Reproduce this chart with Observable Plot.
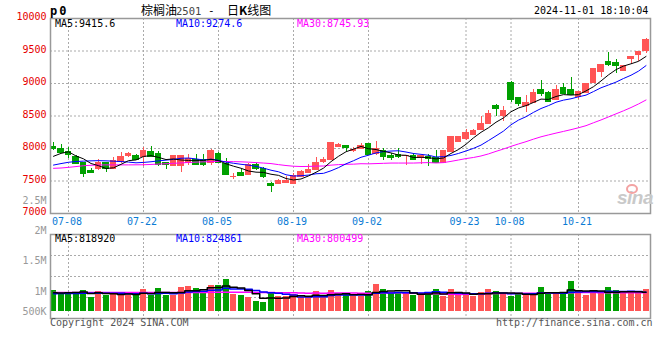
<!DOCTYPE html>
<html><head><meta charset="utf-8">
<script src="https://cdn.jsdelivr.net/npm/d3@7"></script>
<script src="https://cdn.jsdelivr.net/npm/@observablehq/plot@0.6"></script>
<style>
html,body{margin:0;padding:0;background:#fff;}
#wrap{position:relative;width:660px;height:360px;overflow:hidden;background:#fff;font-family:"DejaVu Sans Mono",monospace;}
#wrap svg{position:absolute;left:0;top:0;}
.t{position:absolute;white-space:pre;font-size:10px;line-height:12px;font-family:"DejaVu Sans Mono",monospace;}
.cjk{position:absolute;white-space:pre;font-size:12px;line-height:14px;font-family:"Noto Sans CJK SC",sans-serif;color:#000;}
</style></head><body>
<div id="wrap"></div>
<script>
// ---- data ----
const dates = ["07-04","07-05","07-08","07-09","07-10","07-11","07-12","07-15","07-16","07-17","07-18","07-19","07-22","07-23","07-24","07-25","07-26","07-29","07-30","07-31","08-01","08-02","08-05","08-06","08-07","08-08","08-09","08-12","08-13","08-14","08-15","08-16","08-19","08-20","08-21","08-22","08-23","08-26","08-27","08-28","08-29","08-30","09-02","09-03","09-04","09-05","09-06","09-09","09-10","09-11","09-12","09-13","09-18","09-19","09-20","09-23","09-24","09-25","09-26","09-27","09-30","10-08","10-09","10-10","10-11","10-14","10-15","10-16","10-17","10-18","10-21","10-22","10-23","10-24","10-25","10-28","10-29","10-30","10-31","11-01"];
const open = [8030,7990,7952,7875,7775,7657,7686,7775,7691,7794,7882,7878,7873,7946,7912,7775,7731,7731,7770,7829,7829,7775,7922,7765,7554,7628,7593,7740,7681,7458,7448,7466,7452,7568,7628,7672,7796,7830,8025,8045,7960,7995,8070,7912,7962,7890,7905,7880,7890,7848,7872,7847,7782,7945,8105,8153,8214,8280,8372,8648,8495,9005,8775,8648,8699,8893,8852,8740,8928,8893,8791,8860,9010,9183,9336,9311,9199,9377,9438,9505];
const high = [8095,8055,8012,7892,7780,7700,7838,7784,7863,7936,7936,7902,8010,8025,7961,7789,7897,7897,7902,7902,7902,7985,7931,7843,7608,7677,7765,7765,7701,7471,7520,7570,7618,7657,7755,7855,7863,8080,8083,8052,8010,8070,8080,8115,7995,7930,7998,7890,7920,7888,7905,7972,7965,8180,8192,8296,8300,8485,8587,8678,8653,9035,8790,8816,8903,9046,8877,8975,8995,9097,8867,9000,9230,9285,9479,9367,9280,9410,9482,9693];
const low = [7971,7930,7840,7755,7552,7612,7667,7633,7681,7765,7863,7814,7716,7863,7716,7677,7716,7628,7740,7731,7716,7731,7765,7579,7520,7584,7593,7667,7535,7330,7441,7461,7452,7568,7618,7667,7775,7830,8010,7951,7935,7990,7895,7885,7808,7812,7848,7735,7808,7758,7722,7768,7778,7940,8100,8127,8204,8280,8372,8485,8423,8714,8648,8561,8699,8806,8714,8740,8842,8816,8750,8852,9010,9097,9260,9148,9199,9300,9341,9469];
const close = [7988,7938,7905,7765,7608,7628,7775,7691,7814,7873,7912,7829,7961,7873,7740,7745,7878,7878,7838,7750,7740,7961,7780,7593,7564,7584,7750,7691,7569,7425,7502,7505,7580,7643,7662,7778,7828,8078,8055,8012,7975,8040,7900,7995,7868,7858,7872,7886,7825,7882,7833,7772,7958,8175,8180,8240,8268,8383,8525,8602,8576,8740,8678,8699,8852,8831,8714,8906,8842,8816,8867,9000,9228,9285,9285,9265,9275,9403,9479,9673];
const ma5 = [7880,7925,7950,7885,7841,7769,7736,7693,7703,7756,7813,7824,7878,7890,7863,7830,7839,7823,7816,7818,7817,7833,7814,7765,7728,7696,7654,7636,7632,7604,7587,7538,7516,7531,7578,7634,7698,7798,7880,7950,7990,8032,7996,7984,7956,7932,7899,7896,7862,7865,7860,7840,7854,7924,7984,8065,8164,8249,8319,8404,8471,8565,8624,8659,8709,8760,8755,8800,8829,8822,8829,8886,8951,9039,9133,9213,9268,9303,9341,9416];
const ma10 = [7745,7768,7788,7800,7806,7810,7813,7810,7805,7799,7791,7780,7786,7796,7810,7821,7832,7850,7853,7840,7823,7836,7818,7790,7773,7757,7744,7725,7698,7666,7642,7596,7576,7581,7591,7611,7618,7657,7706,7764,7812,7865,7897,7932,7953,7961,7965,7946,7923,7910,7896,7869,7875,7893,7924,7962,8002,8052,8122,8194,8268,8365,8437,8489,8556,8615,8660,8712,8744,8765,8795,8821,8876,8934,8977,9021,9077,9127,9190,9275];
const ma30 = [7695,7700,7710,7722,7735,7742,7746,7748,7748,7748,7748,7749,7750,7755,7760,7766,7772,7778,7785,7790,7795,7798,7800,7800,7798,7795,7790,7783,7776,7768,7752,7738,7727,7723,7724,7729,7731,7744,7752,7757,7759,7766,7764,7768,7772,7776,7776,7776,7776,7780,7783,7777,7783,7802,7823,7845,7862,7885,7917,7956,7992,8033,8070,8105,8144,8180,8209,8237,8263,8290,8319,8351,8396,8439,8486,8533,8580,8630,8685,8746];
const volume = [895000,725000,810000,810000,895000,610000,853000,682000,725000,768000,682000,768000,938000,682000,994000,682000,682000,1023000,1066000,994000,853000,1109000,1109000,1365000,725000,682000,610000,426000,397000,755000,652000,652000,725000,584000,652000,853000,610000,895000,682000,755000,652000,652000,853000,1151000,938000,755000,755000,823000,682000,682000,797000,938000,652000,938000,712000,712000,652000,797000,938000,853000,712000,652000,725000,755000,755000,1023000,725000,725000,810000,1279000,895000,682000,755000,755000,1023000,895000,755000,755000,755000,938000];
const volMa5 = [800000,790000,800000,810000,827000,770000,796000,770000,753000,727000,742000,725000,776000,768000,813000,813000,796000,813000,890000,890000,924000,1009000,1026000,1086000,1032000,998000,898000,762000,568000,574000,568000,577000,636000,674000,653000,693000,685000,719000,739000,759000,719000,727000,719000,813000,849000,870000,890000,884000,791000,739000,748000,785000,751000,802000,808000,791000,733000,762000,762000,791000,791000,791000,776000,739000,720000,782000,797000,797000,808000,913000,887000,878000,884000,873000,822000,822000,837000,837000,837000,818920];
const volMa10 = [760000,765000,770000,770000,775000,775000,780000,780000,778000,777000,756000,760000,773000,760000,770000,777000,760000,794000,829000,851000,868000,902000,919000,988000,961000,961000,953000,894000,827000,803000,783000,737000,699000,621000,614000,631000,631000,678000,706000,706000,706000,706000,719000,776000,804000,794000,809000,802000,802000,794000,809000,838000,817000,796000,774000,769000,759000,757000,782000,799000,791000,762000,769000,751000,755000,786000,794000,786000,774000,816000,835000,838000,841000,841000,867000,855000,858000,861000,855000,824861];
const volMa30 = [805000,805000,806000,806000,807000,807000,808000,808000,808000,809000,809000,810000,810000,810000,811000,811000,812000,812000,813000,814000,815000,816000,818000,820000,821000,820000,818000,815000,812000,811000,802000,800000,797000,790000,781000,790000,781000,789000,787000,787000,786000,782000,779000,795000,793000,795000,798000,791000,778000,768000,766000,760000,745000,731000,730000,731000,733000,745000,763000,767000,769000,769000,769000,774000,778000,783000,787000,781000,786000,803000,811000,812000,809000,796000,799000,803000,803000,801000,803000,800499];
const tickLabels = ["07-08","07-22","08-05","08-19","09-02","09-23","10-08","10-21"];
const priceTicks = [7000,7500,8000,8500,9000,9500,10000];
const priceGrid = [7500,8000,8500,9000,9500];
const volTickValues = [500000,1000000,1500000,2000000,2500000];
const volTickText = ["500K","1M","1.5M","2M","2.5M"];
const maLabels = {price: ["MA5:9415.6","MA10:9274.6","MA30:8745.93"], vol: ["MA5:818920","MA10:824861","MA30:800499"]};

// ---- build ----
const RED = "#ff5555", GREEN = "#00a000";
const N = close.length;
const rows = d3.range(N).map(i => ({
  i, date: dates[i], open: open[i], high: high[i], low: low[i], close: close[i],
  vol: volume[i], ma5: ma5[i], ma10: ma10[i], ma30: ma30[i],
  vma5: volMa5[i], vma10: volMa10[i], vma30: volMa30[i],
  col: close[i] >= open[i] ? RED : GREEN
}));
const tickIdx = tickLabels.map(l => dates.indexOf(l));
const xDomain = [-0.4, N - 0.4];
const half = 0.36;
const FONT = "'DejaVu Sans Mono', monospace";
const grid = {stroke: "#aaa", strokeDasharray: "2,2", strokeWidth: 1};
const baseStyle = {fontFamily: FONT, fontSize: "10px", background: "transparent", overflow: "visible"};

const price = Plot.plot({
  width: 660, height: 360,
  marginLeft: 50, marginRight: 10, marginTop: 18, marginBottom: 147,
  style: baseStyle,
  color: {type: "identity"},
  x: {type: "linear", domain: xDomain},
  y: {domain: [7000, 10000]},
  marks: [
    Plot.ruleY(priceGrid, grid),
    Plot.ruleX(tickIdx, grid),
    Plot.ruleX(rows, {x: "i", y1: "low", y2: "high", stroke: "col", strokeWidth: 1, shapeRendering: "crispEdges"}),
    Plot.rect(rows, {x1: d => d.i - half, x2: d => d.i + half, y1: "open", y2: "close", fill: "col", stroke: "col", strokeWidth: 1, shapeRendering: "crispEdges"}),
    Plot.line(rows, {x: "i", y: "ma30", stroke: "#ff00ff", strokeWidth: 1}),
    Plot.line(rows, {x: "i", y: "ma10", stroke: "#0000ff", strokeWidth: 1}),
    Plot.line(rows, {x: "i", y: "ma5", stroke: "#000000", strokeWidth: 1}),
    Plot.frame({stroke: "#999", strokeWidth: 1.5}),
    Plot.axisY(priceTicks, {tickSize: 0, tickPadding: 4, fill: "#e60000", dy: -1.5, label: null, tickFormat: d => String(d), fontSize: 10}),
    Plot.axisX(tickIdx, {tickSize: 0, tickPadding: 4, fill: "#0b7bd4", dx: -1.5, label: null, tickFormat: i => dates[i], fontSize: 10})
  ]
});

// volume panel: plot area 234..318, zero level at 311, 23.45 px per million
const volLo = -298500, volHi = 3283600;
const vSpan = volHi - volLo;
const volGrid = [0.25, 0.5, 0.75].map(f => volLo + vSpan * f);
const vol = Plot.plot({
  width: 660, height: 360,
  marginLeft: 50, marginRight: 10, marginTop: 234, marginBottom: 42,
  style: baseStyle,
  color: {type: "identity"},
  x: {type: "linear", domain: xDomain, axis: null},
  y: {domain: [volLo, volHi], axis: null},
  marks: [
    Plot.ruleY(volGrid, grid),
    Plot.ruleX(tickIdx, grid),
    Plot.rect(rows, {x1: d => d.i - 0.4, x2: d => d.i + 0.4, y1: 0, y2: "vol", fill: "col", shapeRendering: "crispEdges"}),
    Plot.line(rows, {x: "i", y: "vma30", stroke: "#ff00ff", strokeWidth: 1.5, curve: "step"}),
    Plot.line(rows, {x: "i", y: "vma10", stroke: "#0000ff", strokeWidth: 1.5, curve: "step"}),
    Plot.line(rows, {x: "i", y: "vma5", stroke: "#000000", strokeWidth: 1.5, curve: "step"}),
    Plot.frame({stroke: "#999", strokeWidth: 1.5})
  ]
});

// volume axis labels (the source chart spaces them on its own piecewise scale)
const volAxis = Plot.plot({
  width: 660, height: 360,
  marginLeft: 50, marginRight: 10, marginTop: 0, marginBottom: 0,
  style: baseStyle,
  x: {type: "linear", domain: xDomain, axis: null},
  y: {type: "linear", domain: [500000, 1000000, 2500000], range: [311, 291, 200], axis: null},
  marks: [
    Plot.axisY(volTickValues, {tickSize: 0, tickPadding: 4, fill: "#999", label: null, fontSize: 10,
      tickFormat: d => volTickText[volTickValues.indexOf(d)]})
  ]
});

const wrap = document.getElementById("wrap");
wrap.appendChild(price);
wrap.appendChild(vol);
wrap.appendChild(volAxis);

function addText(cls, txt, left, top, css) {
  const s = document.createElement("span");
  s.className = cls;
  s.textContent = txt;
  s.style.left = left + "px";
  s.style.top = top + "px";
  Object.assign(s.style, css || {});
  wrap.appendChild(s);
  return s;
}
// header
addText("t", "p0", 50, 4.5, {fontWeight: "bold", fontSize: "12px", letterSpacing: "2px", color: "#000"});
addText("cjk", "棕榈油", 141, 3);
addText("t", "2501", 176, 4.5, {fontSize: "10.5px", color: "#444"});
addText("t", "-", 208, 4.5, {color: "#000", fontSize: "11px"});
const k = addText("cjk", "", 227, 3);
k.innerHTML = "日<b>K</b>线图";
addText("t", "2024-11-01 18:10:04", 534, 4.5, {color: "#000"});
// MA labels
const maCols = ["#000", "#0000ff", "#ff00ff"];
const maX = [55, 176, 297];
maLabels.price.forEach((t, j) => addText("t", t, maX[j], 18, {color: maCols[j]}));
maLabels.vol.forEach((t, j) => addText("t", t, maX[j], 232.5, {color: maCols[j]}));
// footer
addText("t", "Copyright 2024 SINA.COM", 50, 317, {color: "#555"});
addText("t", "http://finance.sina.com.cn", 496, 317, {color: "#555"});
// watermark
addText("t", "sina", 617, 188, {fontFamily: "'Liberation Sans', sans-serif", fontStyle: "italic", fontWeight: "bold", fontSize: "19px", lineHeight: "20px", color: "#c9c9c9", letterSpacing: "-0.5px"});
const eye = document.createElement("div");
Object.assign(eye.style, {position: "absolute", left: "626px", top: "184px", width: "8px", height: "6px", border: "2px solid #f3a3a3", borderRadius: "50%"});
wrap.appendChild(eye);
</script></body></html>
